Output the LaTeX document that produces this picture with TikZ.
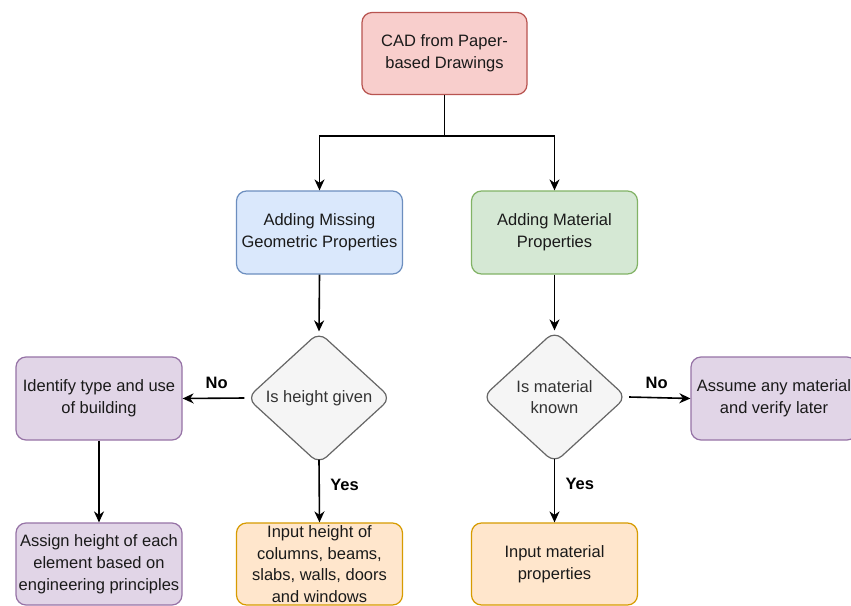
\documentclass[tikz,border=0pt]{standalone}
\usepackage{fontspec}
\setmainfont{Liberation Sans}
\usetikzlibrary{shapes.geometric,arrows.meta}

\definecolor{redfill}{HTML}{F8CECC}\definecolor{redline}{HTML}{B85450}
\definecolor{bluefill}{HTML}{DAE8FC}\definecolor{blueline}{HTML}{6C8EBF}
\definecolor{greenfill}{HTML}{D5E8D4}\definecolor{greenline}{HTML}{82B366}
\definecolor{purplefill}{HTML}{E1D5E7}\definecolor{purpleline}{HTML}{9673A6}
\definecolor{orangefill}{HTML}{FFE6CC}\definecolor{orangeline}{HTML}{D79B00}
\definecolor{grayfill}{HTML}{F5F5F5}\definecolor{grayline}{HTML}{666666}
\definecolor{txt}{HTML}{1A1A1A}\definecolor{diatxt}{HTML}{333333}

\begin{document}
\begin{tikzpicture}[x=1pt,y=-1pt,
  box/.style={draw, rounded corners=10pt, line width=1.2pt,
    minimum width=166pt, minimum height=83pt, inner sep=2pt,
    align=center, text=txt, font=\fontsize{16.5}{21.8}\selectfont},
  dia/.style={diamond, draw=grayline, fill=grayfill, rounded corners=10pt,
    line width=1.2pt, minimum width=144pt, minimum height=132pt, inner sep=0pt,
    align=center, text=diatxt, font=\fontsize{16.5}{21.8}\selectfont},
  conn/.style={line width=1.6pt, draw=black},
  arr/.style={conn, -{Stealth[length=11pt,width=10pt,inset=3.5pt]}},
  lbl/.style={font=\fontsize{16.5}{19}\selectfont\bfseries, text=black}]

\useasboundingbox (0,0) rectangle (851,605);
\fill[white] (0,0) rectangle (851,605);
\clip (0,0) rectangle (851,605);

% top level
\node[box, draw=redline, fill=redfill, minimum width=165pt, minimum height=82pt]
  (cad) at (444.5,53.5) {CAD from Paper-\\based Drawings};

% second level
\node[box, draw=blueline, fill=bluefill] (geo) at (319.5,232.5)
  {Adding Missing\\Geometric Properties};
\node[box, draw=greenline, fill=greenfill] (mat) at (554.5,232.5)
  {Adding Material\\Properties};

% decisions
\node[dia] (hq) at (319,398) {Is height given};
\node[dia] (mq) at (554.5,397) {Is material\\known};

% outcomes
\node[box, draw=purpleline, fill=purplefill] (ident) at (99,398.5)
  {Identify type and use\\of building};
\node[box, draw=purpleline, fill=purplefill] (assume) at (774,398.5)
  {Assume any material\\and verify later};
\node[box, draw=purpleline, fill=purplefill, minimum height=82pt] (assign) at (99,564)
  {Assign height of each\\element based on\\engineering principles};
\node[box, draw=orangeline, fill=orangefill, minimum height=82pt] (inh) at (319.5,564)
  {Input height of\\columns, beams,\\slabs, walls, doors\\and windows};
\node[box, draw=orangeline, fill=orangefill, minimum height=82pt] (inm) at (554.5,564)
  {Input material\\properties};

% connectors
\draw[conn] (cad.south) -- ++(0,41) coordinate (split);
\draw[arr] (split) -| (geo.north);
\draw[arr] (split) -| (mat.north);

\draw[arr] (geo.south) -- (hq.north);
\draw[arr] (mat.south) -- (mq.north);

\draw[arr] ([xshift=-2pt]hq.west) -- (ident.east)
  node[lbl, pos=0.45, above=5pt] {No};
\draw[arr] ([xshift=2pt]mq.east) -- (assume.west)
  node[lbl, pos=0.45, above=5pt] {No};

\draw[arr] ([yshift=5pt]hq.south) -- (inh.north)
  node[lbl, pos=0.4, right=7pt] {Yes};
\draw[arr] ([yshift=5pt]mq.south) -- (inm.north)
  node[lbl, pos=0.4, right=7pt] {Yes};

\draw[arr] (ident.south) -- (assign.north);

\end{tikzpicture}
\end{document}
